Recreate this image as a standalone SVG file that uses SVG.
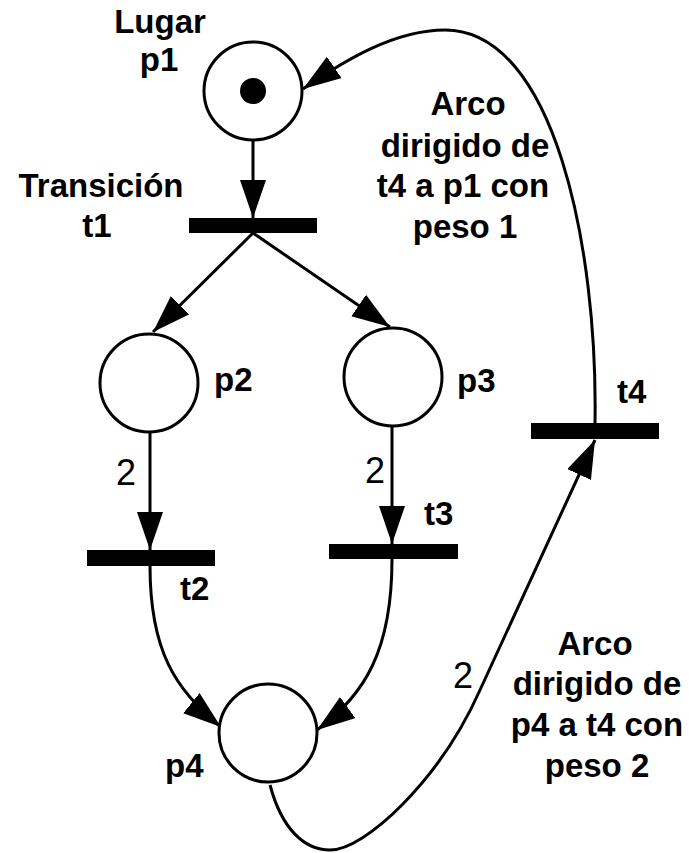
<svg xmlns="http://www.w3.org/2000/svg" width="689" height="853" viewBox="0 0 689 853">
  <style>
    .place { fill: #fff; stroke: #000; stroke-width: 3; }
    .trans { fill: #000; }
    .arc { fill: none; stroke: #000; stroke-width: 3; }
    .lbl { font-family: "Liberation Sans", Arial, sans-serif; font-weight: bold; font-size: 33px; fill: #000; }
    .w { font-family: "Liberation Sans", Arial, sans-serif; font-size: 36px; fill: #000; }
    .mid { text-anchor: middle; }
  </style>
  <defs>
    <marker id="head" markerUnits="userSpaceOnUse" markerWidth="40" markerHeight="28" refX="38" refY="13" orient="auto">
      <path d="M0,0 L38,13 L0,26 Z" fill="#000"/>
    </marker>
  </defs>
  <rect width="689" height="853" fill="#fff"/>

  <!-- arcs of the net -->
  <g id="connectors" class="arc">
    <path d="M253,141 L253,218" marker-end="url(#head)"/>
    <path d="M253,233 L153,332" marker-end="url(#head)"/>
    <path d="M253,233 L390,327" marker-end="url(#head)"/>
    <path d="M150,433 L150,550" marker-end="url(#head)"/>
    <path d="M392,427 L392,544" marker-end="url(#head)"/>
    <path d="M150,566 C150,650 175,690 221,727" marker-end="url(#head)"/>
    <path d="M392,559 C392,650 365,695 317,730" marker-end="url(#head)"/>
    <path d="M270,785 C282,830 305,850 330,850 C365,850 440,780 480,690 L595,440" marker-end="url(#head)"/>
    <path d="M595,423 C598,250 555,30 445,30 C395,30 345,60 303,89" marker-end="url(#head)"/>
  </g>

  <!-- places -->
  <g id="p1">
    <circle class="place" cx="253" cy="91" r="49"/>
    <circle cx="253" cy="91" r="13" fill="#000"/>
    <text class="lbl mid" x="160" y="33">Lugar</text>
    <text class="lbl mid" x="159" y="71">p1</text>
  </g>
  <g id="p2">
    <circle class="place" cx="149" cy="383" r="49"/>
    <text class="lbl" x="214" y="391">p2</text>
  </g>
  <g id="p3">
    <circle class="place" cx="393" cy="377" r="49"/>
    <text class="lbl" x="457" y="392">p3</text>
  </g>
  <g id="p4">
    <circle class="place" cx="268" cy="733" r="49"/>
    <text class="lbl" x="165" y="777">p4</text>
  </g>

  <!-- transitions -->
  <g id="t1">
    <rect class="trans" x="189" y="218" width="128" height="15"/>
    <text class="lbl mid" x="101" y="197">Transición</text>
    <text class="lbl mid" x="97" y="237">t1</text>
  </g>
  <g id="t2">
    <rect class="trans" x="87" y="550" width="128" height="16"/>
    <text class="lbl" x="180" y="600">t2</text>
  </g>
  <g id="t3">
    <rect class="trans" x="329" y="544" width="129" height="15"/>
    <text class="lbl" x="424" y="525">t3</text>
  </g>
  <g id="t4">
    <rect class="trans" x="531" y="423" width="128" height="16"/>
    <text class="lbl" x="617" y="403">t4</text>
  </g>

  <!-- arc weights -->
  <g id="weights" class="w">
    <text x="116" y="485">2</text>
    <text x="365" y="483">2</text>
    <text x="453" y="688">2</text>
  </g>

  <!-- annotations -->
  <g id="note-t4-p1" class="lbl mid">
    <text x="468" y="115">Arco</text>
    <text x="465" y="157">dirigido de</text>
    <text x="463" y="197">t4 a p1 con</text>
    <text x="465" y="238">peso 1</text>
  </g>
  <g id="note-p4-t4" class="lbl mid">
    <text x="595" y="655">Arco</text>
    <text x="597" y="695">dirigido de</text>
    <text x="597" y="736">p4 a t4 con</text>
    <text x="597" y="777">peso 2</text>
  </g>
</svg>
